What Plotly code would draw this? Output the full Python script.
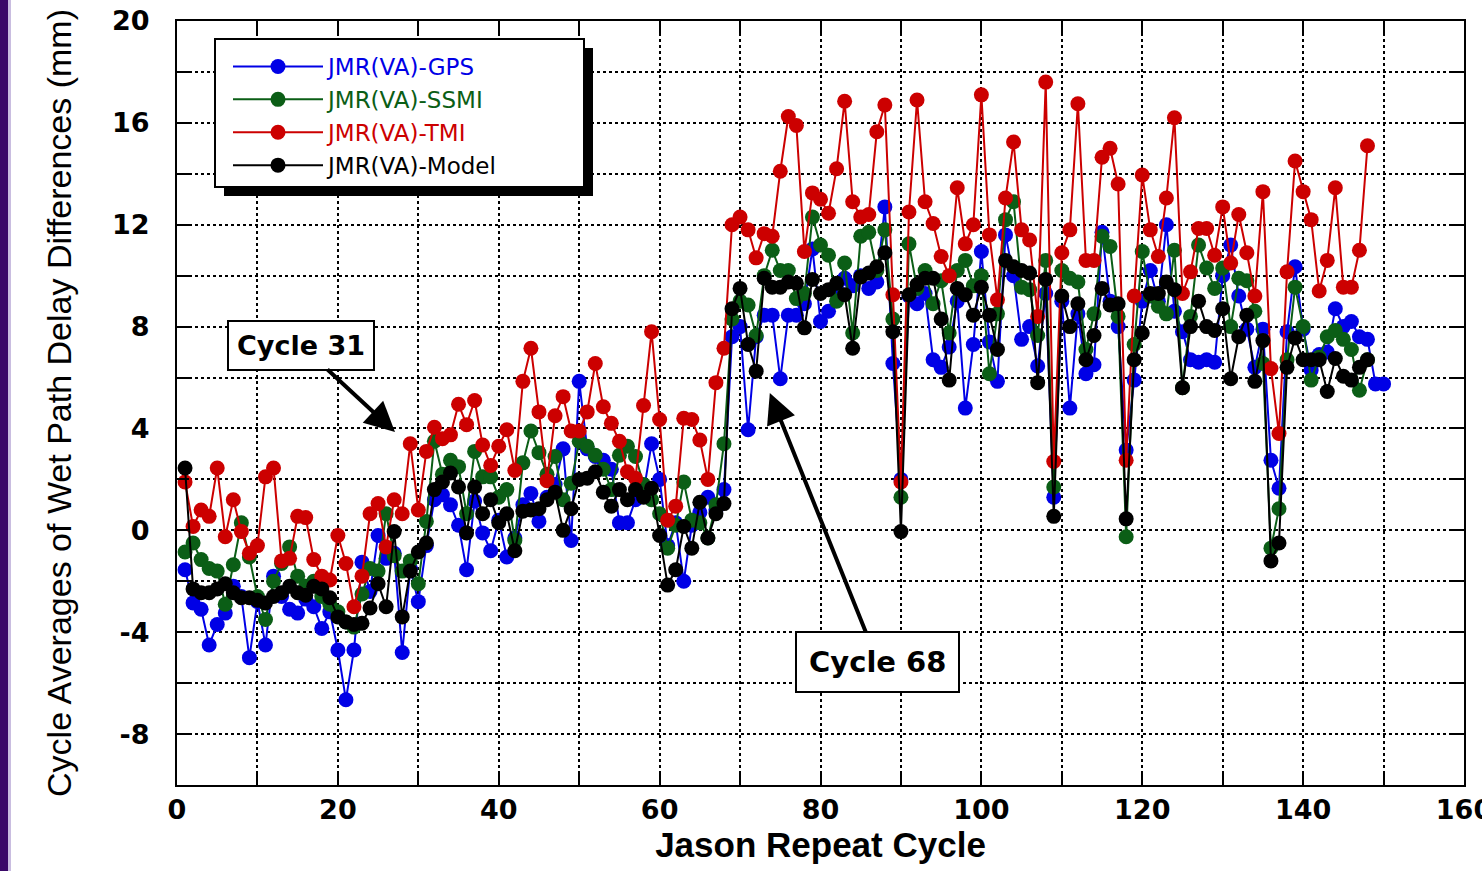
import plotly.graph_objects as go

cycles = list(range(1, 149))
cycles_gps = list(range(1, 151))

gps = [-1.55, -2.85, -3.1, -4.5, -3.7, -3.25, -2.2, -2.6, -5.0, -2.8,
       -4.5, -1.8, -2.6, -3.1, -3.25, -2.7, -3.0, -3.85, -3.2, -4.7,
       -6.65, -4.7, -1.25, -2.4, -0.2, -1.1, -0.9, -4.8, -1.5, -2.8,
       -0.6, 1.2, 1.4, 1.0, 0.2, -1.55, 1.15, -0.1, -0.8, 0.4,
       -1.05, -0.3, 1.0, 1.45, 0.35, 1.3, 1.8, 3.2, -0.4, 5.85,
       3.2, 2.9, 2.75, 2.4, 0.3, 0.3, 1.2, 1.5, 3.4, 2.0,
       -0.6, 0.3, -2.0, 0.2, 0.7, 1.3, 0.8, 1.6, 7.6, 8.0,
       3.95, 7.6, 8.45, 8.45, 5.95, 8.45, 8.45, 8.9, 11.05, 8.2,
       8.6, 9.5, 9.9, 9.6, 10.0, 9.5, 9.75, 12.7, 6.55, 2.0,
       9.2, 8.9, 9.3, 6.7, 6.4, 7.2, 9.0, 4.8, 7.3, 10.95,
       7.4, 5.85, 11.6, 10.0, 7.5, 8.0, 6.45, 9.3, 1.3, 9.0,
       4.8, 8.5, 6.15, 6.5, 11.7, 9.0, 8.0, 3.15, 5.9, 9.0,
       10.2, 9.0, 12.0, 8.6, 7.8, 6.7, 6.6, 6.7, 6.6, 10.0,
       11.2, 9.2, 7.9, 6.4, 7.9, 2.75, 1.65, 7.8, 10.35, 7.9,
       6.3, 6.9, 7.0, 8.7, 8.0, 8.2, 7.6, 7.5, 5.75, 5.75]

ssmi = [-0.85, -0.5, -1.15, -1.5, -1.6, -2.9, -1.35, 0.3, -1.05, -2.6,
        -3.5, -2.0, -1.3, -0.65, -1.8, -2.2, -2.0, -2.6, -2.9, -3.2,
        -3.6, -3.8, -2.5, -1.5, -1.6, 0.65, -1.0, -1.6, -1.2, -2.1,
        0.35, 3.5, 2.2, 2.75, 2.5, 0.65, 3.1, 2.1, 2.1, 1.3,
        1.6, -0.4, 2.65, 3.9, 3.05, 2.2, 2.9, 1.2, 1.85, 3.5,
        3.3, 2.95, 2.4, 1.6, 2.95, 3.3, 2.9, 1.8, 1.2, 0.65,
        -0.7, 0.2, 1.9, 0.4, 0.3, -0.3, 1.0, 3.4, 8.3, 9.0,
        8.85, 7.65, 10.0, 11.0, 10.2, 10.2, 9.1, 9.3, 12.3, 11.2,
        10.8, 9.0, 10.5, 7.75, 11.55, 11.7, 10.2, 11.8, 8.3, 1.3,
        11.25, 9.5, 10.2, 8.9, 9.8, 7.75, 10.2, 10.6, 9.6, 10.0,
        6.15, 8.5, 12.2, 12.9, 9.55, 9.45, 7.65, 10.6, 1.7, 10.2,
        9.9, 9.75, 7.1, 8.5, 11.55, 11.15, 8.4, -0.25, 7.3, 10.95,
        9.2, 8.8, 8.5, 11.0, 5.6, 8.4, 11.2, 10.3, 9.5, 10.3,
        8.0, 9.9, 9.8, 8.6, 6.55, -0.7, 0.85, 6.7, 9.55, 8.0,
        5.9, 6.8, 7.6, 7.85, 7.5, 7.1, 5.5, 6.7]

tmi = [1.9, 0.15, 0.8, 0.55, 2.45, -0.25, 1.2, -0.05, -0.9, -0.6,
       2.1, 2.45, -1.2, -1.1, 0.55, 0.5, -1.15, -1.8, -1.95, -0.2,
       -1.3, -3.0, -1.8, 0.65, 1.05, -0.65, 1.2, 0.65, 3.4, 0.8,
       3.1, 4.05, 3.6, 3.75, 4.95, 4.15, 5.1, 3.35, 2.55, 3.3,
       3.95, 2.35, 5.85, 7.15, 4.65, 1.95, 4.5, 5.25, 3.9, 3.9,
       4.65, 6.55, 4.85, 4.2, 3.5, 2.3, 2.05, 4.9, 7.8, 4.35,
       0.4, 0.95, 4.4, 4.35, 3.55, 2.0, 5.8, 7.15, 12.0, 12.3,
       11.8, 10.7, 11.65, 11.55, 14.1, 16.25, 15.9, 10.95, 13.25, 13.0,
       12.45, 14.2, 16.85, 12.9, 12.3, 12.4, 15.65, 16.7, 9.25, 1.9,
       12.5, 16.9, 12.9, 12.05, 10.75, 10.0, 13.45, 11.25, 12.0, 17.1,
       11.6, 9.05, 13.05, 15.25, 11.8, 11.4, 8.4, 17.6, 2.7, 10.9,
       11.8, 16.75, 10.6, 10.6, 14.65, 15.0, 13.6, 2.75, 9.2, 13.95,
       11.8, 10.75, 13.05, 16.2, 9.3, 10.15, 11.85, 11.85, 10.8, 12.7,
       10.5, 12.4, 10.9, 9.2, 13.3, 6.35, 3.8, 10.15, 14.5, 13.3,
       12.2, 9.4, 10.6, 13.45, 9.55, 9.55, 11.0, 15.1]

model = [2.45, -2.3, -2.45, -2.45, -2.3, -2.1, -2.45, -2.65, -2.65, -2.75,
         -2.85, -2.6, -2.45, -2.2, -2.45, -2.55, -2.2, -2.3, -2.65, -3.4,
         -3.6, -3.7, -3.65, -3.05, -2.1, -3.0, -0.05, -3.4, -1.6, -0.85,
         -0.5, 1.6, 1.9, 2.25, 1.7, -0.1, 1.7, 0.65, 1.2, 0.3,
         0.65, -0.8, 0.75, 0.8, 0.85, 1.2, 1.5, 0.0, 0.85, 2.0,
         2.05, 2.3, 1.5, 0.95, 1.6, 1.2, 1.6, 1.3, 1.65, -0.2,
         -2.15, -1.55, 0.15, -0.7, 1.1, -0.3, 0.65, 1.05, 8.7, 9.5,
         7.3, 6.25, 9.9, 9.55, 9.55, 9.75, 9.7, 7.95, 9.85, 9.3,
         9.45, 9.7, 9.25, 7.15, 9.95, 10.1, 10.35, 10.9, 7.8, -0.05,
         9.25, 9.65, 9.9, 9.9, 8.3, 5.9, 9.5, 9.25, 8.45, 9.55,
         8.45, 7.1, 10.6, 10.35, 10.2, 10.1, 5.8, 9.85, 0.55, 9.2,
         8.0, 8.9, 6.7, 7.65, 9.5, 8.85, 8.9, 0.45, 6.7, 7.75,
         9.3, 9.3, 9.75, 9.45, 5.6, 8.0, 9.0, 8.0, 7.85, 8.7,
         5.95, 7.6, 8.45, 5.85, 7.45, -1.2, -0.5, 6.4, 7.55, 6.7,
         6.7, 6.7, 5.45, 6.75, 6.05, 5.9, 6.4, 6.7]

x_tickvals = [0, 20, 40, 60, 80, 100, 120, 140, 160]
x_ticktext = ["0", "20", "40", "60", "80", "100", "120", "140", "160"]
y_tickvals = [-8, -4, 0, 4, 8, 12, 16, 20]
y_ticktext = ["-8", "-4", "0", "4", "8", "12", "16", "20"]

series = [
    ("JMR(VA)-GPS", cycles_gps, gps, "#0000e6"),
    ("JMR(VA)-SSMI", cycles, ssmi, "#0b5e16"),
    ("JMR(VA)-TMI", cycles, tmi, "#cc0000"),
    ("JMR(VA)-Model", cycles, model, "#000000"),
]

fig = go.Figure()
for name, xs, ys, col in series:
    fig.add_trace(go.Scatter(
        x=xs, y=ys, mode="lines+markers",
        name=f"<span style='color:{col}'>{name}</span>",
        line=dict(color=col, width=2),
        marker=dict(color=col, size=15, symbol="circle", line=dict(width=0)),
    ))

L, R, T, B = 177, 18, 21, 86
W, H = 1482, 871
pw, ph = W - L - R, H - T - B


def px2paper(x, y):
    return (x - L) / pw, 1 - (y - T) / ph


tick_font = dict(family="DejaVu Sans", size=27, color="black", weight="bold")

# legend box with drop shadow
sx0, sy0 = px2paper(224, 48)
sx1, sy1 = px2paper(593, 196)
bx0, by0 = px2paper(215, 39)
bx1, by1 = px2paper(584, 187)
# purple strip on the left
ps0, pt0 = px2paper(0, 0)
ps1, pb1 = px2paper(8, H)
ls0, _ = px2paper(8, 0)
ls1, _ = px2paper(11, 0)

shapes = [
    dict(type="rect", xref="paper", yref="paper", x0=sx0, x1=sx1, y0=sy1, y1=sy0,
         fillcolor="black", line=dict(width=0), layer="above"),
    dict(type="rect", xref="paper", yref="paper", x0=bx0, x1=bx1, y0=by1, y1=by0,
         fillcolor="white", line=dict(color="black", width=2), layer="above"),
    dict(type="rect", xref="paper", yref="paper", x0=ps0, x1=ps1, y0=pb1, y1=pt0,
         fillcolor="#3a0868", line=dict(width=0), layer="above"),
    dict(type="rect", xref="paper", yref="paper", x0=ls0, x1=ls1, y0=pb1, y1=pt0,
         fillcolor="#c9bde0", line=dict(width=0), layer="above"),
]

lx, ly = px2paper(228, 45)

axis_common = dict(
    showline=True, linecolor="black", linewidth=2, mirror="ticks",
    ticks="inside", ticklen=12, tickwidth=2, tickcolor="black",
    showgrid=True, gridcolor="black", griddash="dot", gridwidth=2,
    zeroline=False, tickfont=tick_font, automargin=False,
)

fig.update_layout(
    width=W, height=H,
    margin=dict(l=L, r=R, t=T, b=B, autoexpand=False),
    paper_bgcolor="white", plot_bgcolor="white",
    showlegend=True,
    legend=dict(x=lx, y=ly, xanchor="left", yanchor="top",
                bgcolor="rgba(0,0,0,0)", borderwidth=0,
                font=dict(family="DejaVu Sans", size=23, color="black"),
                itemwidth=90, tracegroupgap=0),
    shapes=shapes,
    xaxis=dict(
        range=[0, 160], tickvals=x_tickvals, ticktext=x_ticktext,
        ticklabeloverflow="allow",
        minor=dict(dtick=10, tick0=0, ticks="inside", ticklen=12, tickwidth=2, tickcolor="black",
                   showgrid=True, gridcolor="black", griddash="dot", gridwidth=2),
        title=dict(text="Jason Repeat Cycle", standoff=6,
                   font=dict(family="Liberation Sans", size=35, color="black", weight="bold")),
        **axis_common,
    ),
    yaxis=dict(
        range=[-10, 20], tickvals=y_tickvals, ticktext=y_ticktext,
        ticklabelstandoff=20,
        minor=dict(dtick=2, tick0=0, ticks="inside", ticklen=12, tickwidth=2, tickcolor="black",
                   showgrid=True, gridcolor="black", griddash="dot", gridwidth=2),
        title=dict(text="Cycle Averages of Wet Path Delay Differences (mm)", standoff=30,
                   font=dict(family="Liberation Sans", size=34, color="black")),
        **axis_common,
    ),
    annotations=[
        dict(x=27.1, y=3.86, xref="x", yref="y", text="Cycle 31",
             showarrow=True, ax=-94, ay=-87, axref="pixel", ayref="pixel",
             arrowhead=2, arrowsize=1.5, arrowwidth=4, arrowcolor="black",
             bgcolor="white", bordercolor="black", borderwidth=2, borderpad=8,
             font=dict(family="DejaVu Sans", size=27, color="black", weight="bold")),
        dict(x=73.7, y=5.39, xref="x", yref="y", text="Cycle 68",
             showarrow=True, ax=108, ay=269, axref="pixel", ayref="pixel",
             arrowhead=2, arrowsize=1.5, arrowwidth=4, arrowcolor="black",
             bgcolor="white", bordercolor="black", borderwidth=2, borderpad=12,
             font=dict(family="DejaVu Sans", size=29, color="black", weight="bold")),
    ],
)

fig.write_html("out.html", config={"displayModeBar": False},
               post_script="document.body.style.margin='0px';")
